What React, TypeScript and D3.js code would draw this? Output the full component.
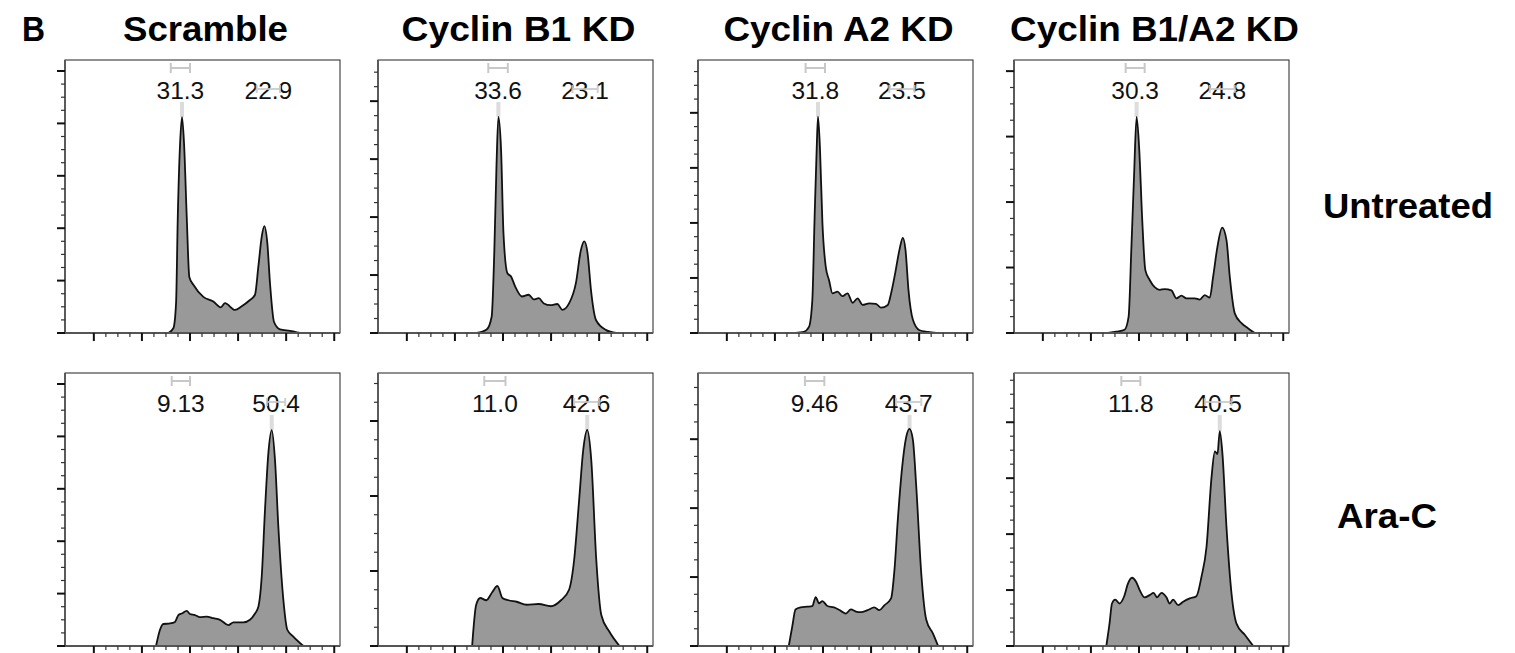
import React from "react";
import * as d3 from "d3";

// column / row headings
const conditions = ["Scramble", "Cyclin B1 KD", "Cyclin A2 KD", "Cyclin B1/A2 KD"];
const treatments = ["Untreated", "Ara-C"];

// histogram outlines: [DNA content (K), count]
const scrambleUntreated = [
  [77.5, 0], [82.7, 9], [85.5, 57], [87.3, 222], [89.7, 362], [91.7, 412], [93.8, 362],
  [96.6, 222], [99.3, 107], [103.5, 92], [113.9, 69], [124.3, 60], [132, 49], [136.4, 57],
  [146.8, 44], [153.8, 51], [161.7, 62], [167.6, 73], [171.1, 127], [174.6, 184], [177.3, 204],
  [180.4, 172], [183.2, 95], [187.4, 21], [193.6, 7], [204, 4], [214.4, 0],
];
const b1Untreated = [
  [72.5, 0], [83, 6], [88.2, 28], [91, 143], [93.2, 287], [95.2, 373], [98, 316], [100.5, 172],
  [104.6, 103], [108.5, 97], [112.7, 80], [119.7, 63], [126.7, 66], [132, 58], [137.2, 60],
  [142.5, 51], [149.5, 48], [156.5, 50], [161.7, 40], [168.7, 51], [175.8, 86], [181, 143],
  [184.5, 158], [188, 137], [191.5, 74], [196.8, 22], [207.3, 5], [217.8, 0],
];
const a2Untreated = [
  [71.4, 0], [80.1, 2], [85.4, 11], [88.9, 60], [91.3, 212], [93.4, 333], [94.8, 393], [96.9, 333],
  [99.4, 200], [102.8, 121], [106.3, 96], [109.8, 72], [115.1, 75], [120.3, 67], [125.5, 72],
  [130.8, 55], [136, 63], [141.2, 51], [148.1, 54], [155.1, 53], [160.4, 46], [167.4, 51],
  [170.8, 72], [175, 108], [179.5, 151], [183, 173], [185.8, 151], [188.9, 78], [193.5, 24],
  [200.4, 5], [209.2, 2], [217.9, 0],
];
const b1a2Untreated = [
  [67.7, 0], [76.4, 2], [85, 5], [89.2, 25], [92, 127], [94.8, 238], [97.5, 330], [100.3, 279],
  [103.2, 178], [106.6, 96], [111.1, 81], [116.3, 70], [121.5, 66], [126.7, 67], [133.7, 65],
  [138.9, 53], [144.1, 57], [149.3, 53], [158, 53], [163.2, 51], [168.4, 58], [173.6, 54],
  [177.1, 86], [181.6, 132], [186.5, 161], [191, 142], [194.4, 86], [199.6, 30], [206.6, 15],
  [213.6, 7], [220.5, 0],
];
const scrambleAraC = [
  [64.7, 0], [68.8, 31], [72.3, 42], [79.2, 43], [84.4, 46], [87.9, 59], [91.4, 62], [96.6, 67],
  [100, 61], [105.2, 59], [110.4, 55], [117.4, 56], [124.3, 53], [131.2, 50], [139.9, 40],
  [145.1, 45], [155.5, 45], [162.4, 50], [167.6, 62], [171.1, 75], [174.6, 133], [178, 260],
  [181.5, 368], [185, 412], [188.4, 355], [191.9, 227], [197.1, 88], [201.2, 31], [207.5, 18],
  [217.9, 0],
];
const b1AraC = [
  [67.9, 0], [72.1, 55], [76.3, 64], [82.6, 61], [88.9, 72], [94.2, 80], [99.4, 64], [105.7, 61],
  [114.1, 59], [124.6, 55], [137.2, 56], [149.8, 53], [160.3, 61], [168.7, 75], [174, 115],
  [179.2, 195], [183.4, 261], [187.6, 288], [191.8, 248], [197, 115], [202.3, 41], [210.7, 19],
  [221.2, 0],
];
const a2AraC = [
  [64.4, 0], [68, 28], [71.4, 53], [76.7, 56], [83.7, 57], [88.9, 58], [92.4, 71], [95.8, 62],
  [99.4, 65], [104.6, 58], [111.5, 56], [118.5, 51], [123.7, 47], [129, 53], [134.2, 50],
  [139.4, 49], [146.4, 52], [153.3, 56], [158.6, 52], [163.8, 59], [170.8, 69], [174.3, 110],
  [177.8, 183], [182, 255], [186.5, 303], [190, 315], [193.5, 299], [197, 231], [202.2, 105],
  [207.4, 38], [214.4, 18], [219.7, 0],
];
const b1a2AraC = [
  [66, 0], [69.4, 41], [71.9, 76], [75.3, 83], [79.8, 76], [84.4, 88], [88.6, 112], [92.7, 122],
  [97.2, 114], [100.7, 100], [105.9, 87], [111.1, 91], [115.2, 95], [118.8, 87], [123.3, 95],
  [128.5, 87], [131.9, 76], [135.5, 83], [140.7, 73], [145.9, 79], [152.8, 85], [159.7, 89],
  [165, 124], [170.2, 177], [175.4, 301], [178.9, 348], [181.6, 343], [184, 384], [186.8, 343],
  [191, 212], [196.2, 94], [201.4, 40], [210, 20], [218.8, 0],
];

const histograms = [
  [scrambleUntreated, b1Untreated, a2Untreated, b1a2Untreated],
  [scrambleAraC, b1AraC, a2AraC, b1a2AraC],
];

// top of each count axis
const yMax = [
  [521, 471, 496, 417],
  [521, 364, 396, 488],
];

// gates (K) and their percentages
const g1Gates = [
  [[80, 100], [84.7, 105], [81.9, 102.1], [86.1, 105.9]],
  [[81, 100], [80.5, 102.6], [81.2, 101.4], [81.6, 101.4]],
];
const g2Gates = [
  [[169.4, 193.6], [172.2, 198.5], [169, 195.2], [173.6, 199.6]],
  [[180, 199], [174, 200], [176, 202.2], [168.4, 196.2]],
];
const g1Pct = [["31.3", "33.6", "31.8", "30.3"], ["9.13", "11.0", "9.46", "11.8"]];
const g2Pct = [["22.9", "23.1", "23.5", "24.8"], ["50.4", "42.6", "43.7", "40.5"]];

const xDomain = [-30, 256];
const xMajor = d3.range(0, 251, 50);
const xMinor = d3.range(0, 251, 12.5).filter((v) => v % 50 !== 0);

const panelLeft = [65, 378, 698, 1014];
const rowTop = [60, 373];
const W = 275;
const H = 273;
const FONT = "Arial, 'Liberation Sans', sans-serif";

function Panel({ row, col }: { row: number; col: number }) {
  const left = panelLeft[col];
  const top = rowTop[row];
  const data = histograms[row][col];
  const x = d3.scaleLinear().domain(xDomain).range([left, left + W]);
  const y = d3.scaleLinear().domain([0, yMax[row][col]]).range([top + H, top]);

  const area = d3
    .area<number[]>()
    .x((d) => x(d[0]))
    .y0(y(0))
    .y1((d) => y(d[1]))
    .curve(d3.curveMonotoneX);
  const line = d3
    .line<number[]>()
    .x((d) => x(d[0]))
    .y((d) => y(d[1]))
    .curve(d3.curveMonotoneX);

  const yMajor = d3.range(0, yMax[row][col] + 1, 100);
  const yMinor = d3.range(0, yMax[row][col], 25).filter((v) => v % 100 !== 0);
  const peak = data.reduce((a, b) => (b[1] > a[1] ? b : a));
  const g1 = g1Gates[row][col];
  const g2 = g2Gates[row][col];
  const bottom = top + H;

  return (
    <g>
      <rect x={x(peak[0]) - 2} y={top + 42} width={4} height={y(peak[1]) - top - 42} fill="#dcdcdc" />
      <path d={area(data) || ""} fill="#999999" />
      <path d={line(data) || ""} fill="none" stroke="#111" strokeWidth={1.8} strokeLinejoin="round" />
      <rect x={left} y={top} width={W} height={H} fill="none" stroke="#222" strokeWidth={1} />
      <line x1={left} x2={left} y1={top} y2={bottom} stroke="#555" strokeWidth={1.8} />
      <line x1={left} x2={left + W} y1={bottom} y2={bottom} stroke="#555" strokeWidth={1.8} />

      {xMajor.map((t) => (
        <line key={"xM" + t} x1={x(t)} x2={x(t)} y1={bottom} y2={bottom + 8} stroke="#111" strokeWidth={2} />
      ))}
      {xMinor.map((t) => (
        <line key={"xm" + t} x1={x(t)} x2={x(t)} y1={bottom} y2={bottom + 4} stroke="#333" strokeWidth={1.2} />
      ))}
      {yMajor.map((t) => (
        <line key={"yM" + t} x1={left - 8} x2={left} y1={y(t)} y2={y(t)} stroke="#111" strokeWidth={2} />
      ))}
      {yMinor.map((t) => (
        <line key={"ym" + t} x1={left - 4} x2={left} y1={y(t)} y2={y(t)} stroke="#333" strokeWidth={1.2} />
      ))}

      {/* G1 gate */}
      <g stroke="#c8c8c8" strokeWidth={2}>
        <line x1={x(g1[0])} x2={x(g1[1])} y1={top + 8} y2={top + 8} />
        <line x1={x(g1[0])} x2={x(g1[0])} y1={top + 3} y2={top + 13} />
        <line x1={x(g1[1])} x2={x(g1[1])} y1={top + 3} y2={top + 13} />
      </g>
      <text x={x((g1[0] + g1[1]) / 2)} y={top + 39} textAnchor="middle" fontFamily={FONT} fontSize={24.5} fill="#111">
        {g1Pct[row][col]}
      </text>
      <text x={x((g2[0] + g2[1]) / 2)} y={top + 39} textAnchor="middle" fontFamily={FONT} fontSize={24.5} fill="#111">
        {g2Pct[row][col]}
      </text>
      {/* G2 gate */}
      <g stroke="#c8c8c8" strokeWidth={2} opacity={0.85}>
        <line x1={x(g2[0])} x2={x(g2[1])} y1={top + 29} y2={top + 29} />
        <line x1={x(g2[0])} x2={x(g2[0])} y1={top + 25} y2={top + 33} />
        <line x1={x(g2[1])} x2={x(g2[1])} y1={top + 25} y2={top + 33} />
      </g>
    </g>
  );
}

const titleWidths = [165, 234, 230, 289];

export default function App() {
  return (
    <svg
      width={1515}
      height={653}
      style={{ position: "absolute", left: 0, top: 0, background: "#fff" }}
    >
      <rect x={0} y={0} width={1515} height={653} fill="#fff" />
      <text x={22} y={41} fontFamily={FONT} fontWeight="bold" fontSize={35} textLength={23} lengthAdjust="spacingAndGlyphs">
        B
      </text>
      {conditions.map((c, i) => (
        <text
          key={c}
          x={panelLeft[i] + W / 2 + 3 - titleWidths[i] / 2}
          y={41}
          fontFamily={FONT}
          fontWeight="bold"
          fontSize={35}
          textLength={titleWidths[i]}
          lengthAdjust="spacingAndGlyphs"
        >
          {c}
        </text>
      ))}
      <text x={1323} y={218} fontFamily={FONT} fontWeight="bold" fontSize={35} textLength={170} lengthAdjust="spacingAndGlyphs">
        {treatments[0]}
      </text>
      <text x={1337} y={528} fontFamily={FONT} fontWeight="bold" fontSize={35} textLength={100} lengthAdjust="spacingAndGlyphs">
        {treatments[1]}
      </text>
      {histograms.map((r, ri) => r.map((_, ci) => <Panel key={ri + "-" + ci} row={ri} col={ci} />))}
    </svg>
  );
}
